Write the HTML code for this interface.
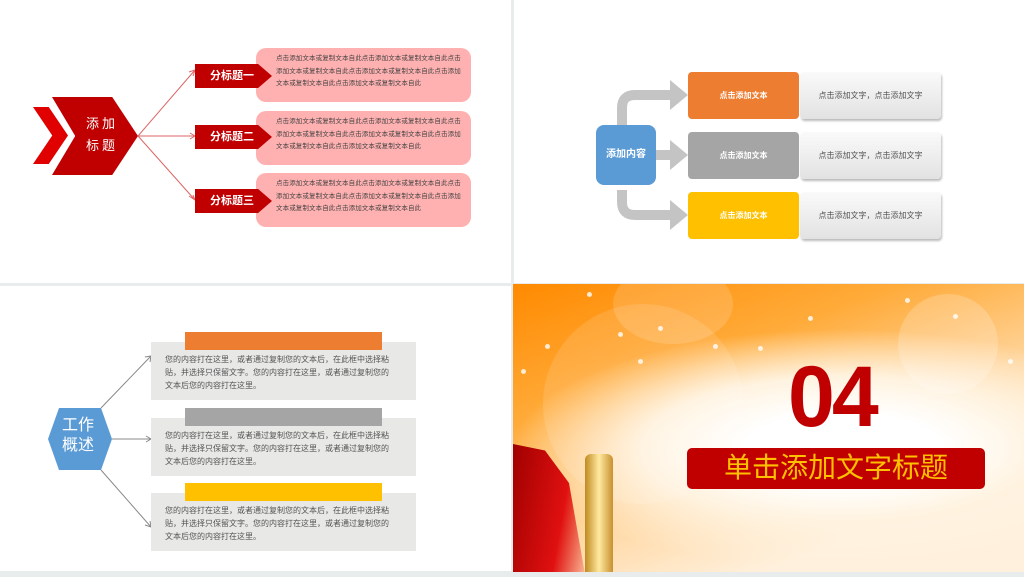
<!DOCTYPE html><html><head><meta charset="utf-8"><style>
*{margin:0;padding:0;box-sizing:border-box}
body{width:1024px;height:577px;background:#e9eced;position:relative;overflow:hidden;font-family:"Liberation Sans","Noto Sans CJK SC",sans-serif}
.a{position:absolute}
.p{position:absolute;background:#fff}
.pk{position:absolute;left:256px;width:215px;height:54px;background:#ffb1b1;border-radius:10px;font-size:6.5px;line-height:12.5px;color:#444;padding:5px 0 0 20px;letter-spacing:.1px}
.tg{position:absolute;left:195px;width:77px;height:24px;background:#c00000;clip-path:polygon(0 0,82% 0,100% 50%,82% 100%,0 100%);color:#fff;font-size:11px;font-weight:bold;line-height:24px;padding-left:15px}
.ob{position:absolute;left:688px;width:111px;height:47px;border-radius:4px;color:#fff;font-size:8px;font-weight:bold;text-align:center;line-height:47px}
.wb{position:absolute;left:800px;width:141px;height:47px;border-radius:4px;background:linear-gradient(#fafafa,#e2e2e2);box-shadow:1px 2px 2px #bbb;color:#555;font-size:8px;text-align:center;line-height:47px}
.gb{position:absolute;left:151px;width:265px;height:58px;background:#e8e8e6;color:#555;font-size:8px;line-height:13px;padding:11px 0 0 14px}
.bar{position:absolute;left:185px;width:197px;height:18px}
.d{position:absolute;width:5px;height:5px;border-radius:50%;background:rgba(255,255,255,.8)}
</style></head><body>
<div class="p" style="left:0;top:0;width:511px;height:283px"></div>
<div class="p" style="left:514px;top:0;width:510px;height:283px"></div>
<div class="p" style="left:0;top:286px;width:511px;height:285px"></div>
<div class="a" style="left:513px;top:284px;width:511px;height:288px;overflow:hidden;background:radial-gradient(ellipse 330px 120px at 330px 165px,#fff 30%,#fff3e0 60%,rgba(255,240,220,0) 100%),linear-gradient(160deg,#ff8a00 0%,#ffab3a 30%,#ffd49a 55%,#fff0dd 80%)">
 <div class="a" style="left:30px;top:20px;width:200px;height:200px;border-radius:50%;background:rgba(255,255,255,.12)"></div>
 <div class="a" style="left:385px;top:10px;width:100px;height:100px;border-radius:50%;background:rgba(255,255,255,.2)"></div>
 <div class="a" style="left:100px;top:-20px;width:120px;height:80px;border-radius:50%;background:rgba(255,255,255,.15)"></div>
 <div class="d" style="left:74px;top:8px"></div><div class="d" style="left:145px;top:42px"></div><div class="d" style="left:105px;top:48px"></div><div class="d" style="left:32px;top:60px"></div><div class="d" style="left:295px;top:32px"></div><div class="d" style="left:245px;top:62px"></div><div class="d" style="left:392px;top:14px"></div><div class="d" style="left:440px;top:30px"></div><div class="d" style="left:8px;top:85px"></div><div class="d" style="left:125px;top:75px"></div><div class="d" style="left:200px;top:60px"></div><div class="d" style="left:495px;top:75px"></div>
 <div class="a" style="left:0;top:160px;width:80px;height:130px;background:linear-gradient(100deg,#a00000,#e01010 60%,rgba(220,30,20,0));clip-path:polygon(0 0,40% 5%,70% 30%,90% 100%,0 100%)"></div>
 <div class="a" style="left:72px;top:170px;width:28px;height:120px;background:linear-gradient(90deg,#c08a20,#ffe9a0,#c89030);border-radius:6px 6px 0 0"></div>
 <div class="a" style="left:275px;top:70px;font-family:'Liberation Sans',sans-serif;font-weight:bold;font-size:86px;color:#c00000;transform:scaleX(.98);transform-origin:left;letter-spacing:-3px;line-height:86px">04</div>
 <div class="a" style="left:174px;top:164px;width:298px;height:41px;background:#c00000;border-radius:5px;color:#ffc000;font-size:28px;text-align:center;line-height:40px">单击添加文字标题</div>
</div>

<!-- TL -->
<div class="a" style="left:33px;top:107px;width:35px;height:57px;background:#e00000;clip-path:polygon(0 0,45% 0,100% 50%,45% 100%,0 100%,55% 50%)"></div>
<div class="a" style="left:52px;top:97px;width:86px;height:78px;background:#c00000;clip-path:polygon(0 0,70% 0,100% 50%,70% 100%,0 100%,27% 50%)"></div>
<div class="a" style="left:86px;top:113px;color:#fff;font-size:13px;line-height:22px;letter-spacing:3px">添加<br>标题</div>
<svg class="a" style="left:0;top:0" width="300" height="283"><g stroke="#d66" stroke-width="1" fill="none"><path d="M138 136L195 70M138 136L195 136M138 136L195 200"/><path d="M189 72L195 70L193 76M190 133L195 136L190 139M189 196L195 200L193 195"/></g></svg>
<div class="pk" style="top:48px">点击添加文本或复制文本自此点击添加文本或复制文本自此点击<br>添加文本或复制文本自此点击添加文本或复制文本自此点击添加<br>文本或复制文本自此点击添加文本或复制文本自此</div>
<div class="pk" style="top:111px">点击添加文本或复制文本自此点击添加文本或复制文本自此点击<br>添加文本或复制文本自此点击添加文本或复制文本自此点击添加<br>文本或复制文本自此点击添加文本或复制文本自此</div>
<div class="pk" style="top:173px">点击添加文本或复制文本自此点击添加文本或复制文本自此点击<br>添加文本或复制文本自此点击添加文本或复制文本自此点击添加<br>文本或复制文本自此点击添加文本或复制文本自此</div>
<div class="tg" style="top:64px">分标题一</div>
<div class="tg" style="top:125px">分标题二</div>
<div class="tg" style="top:189px">分标题三</div>

<!-- TR -->
<svg class="a" style="left:580px;top:60px" width="110" height="190"><g fill="none" stroke="#c4c4c4" stroke-width="10"><path d="M42 70V48Q42 35 55 35H95"/><path d="M42 130V142Q42 155 55 155H95"/><path d="M75 95H95"/></g><g fill="#c4c4c4"><path d="M90 20L108 35L90 50Z"/><path d="M90 80L108 95L90 110Z"/><path d="M90 140L108 155L90 170Z"/></g></svg>
<div class="a" style="left:596px;top:125px;width:60px;height:60px;border-radius:8px;background:#5b9bd5;color:#fff;font-size:10px;font-weight:bold;text-align:center;line-height:60px">添加内容</div>
<div class="ob" style="top:72px;background:#ed7d31">点击添加文本</div>
<div class="ob" style="top:132px;background:#a5a5a5">点击添加文本</div>
<div class="ob" style="top:192px;background:#ffc000">点击添加文本</div>
<div class="wb" style="top:72px">点击添加文字，点击添加文字</div>
<div class="wb" style="top:132px">点击添加文字，点击添加文字</div>
<div class="wb" style="top:192px">点击添加文字，点击添加文字</div>

<!-- BL -->
<svg class="a" style="left:0;top:286px" width="160" height="285"><polygon points="48,153 59,122 101,122 112,153 101,184 59,184" fill="#5b9bd5"/><g stroke="#888" fill="none" stroke-width="1"><path d="M101 122L151 70M112 153L151 153M101 184L151 241"/><path d="M145 71L151 70L150 76M146 150L151 153L146 156M145 239L151 241L150 235"/></g></svg>
<div class="a" style="left:62px;top:416px;color:#fff;font-size:16px;line-height:20px">工作<br>概述</div>
<div class="gb" style="top:342px">您的内容打在这里，或者通过复制您的文本后，在此框中选择粘<br>贴，并选择只保留文字。您的内容打在这里，或者通过复制您的<br>文本后您的内容打在这里。</div>
<div class="gb" style="top:418px">您的内容打在这里，或者通过复制您的文本后，在此框中选择粘<br>贴，并选择只保留文字。您的内容打在这里，或者通过复制您的<br>文本后您的内容打在这里。</div>
<div class="gb" style="top:493px">您的内容打在这里，或者通过复制您的文本后，在此框中选择粘<br>贴，并选择只保留文字。您的内容打在这里，或者通过复制您的<br>文本后您的内容打在这里。</div>
<div class="bar" style="top:332px;background:#ed7d31"></div>
<div class="bar" style="top:408px;background:#a5a5a5"></div>
<div class="bar" style="top:483px;background:#ffc000"></div>
</body></html>
